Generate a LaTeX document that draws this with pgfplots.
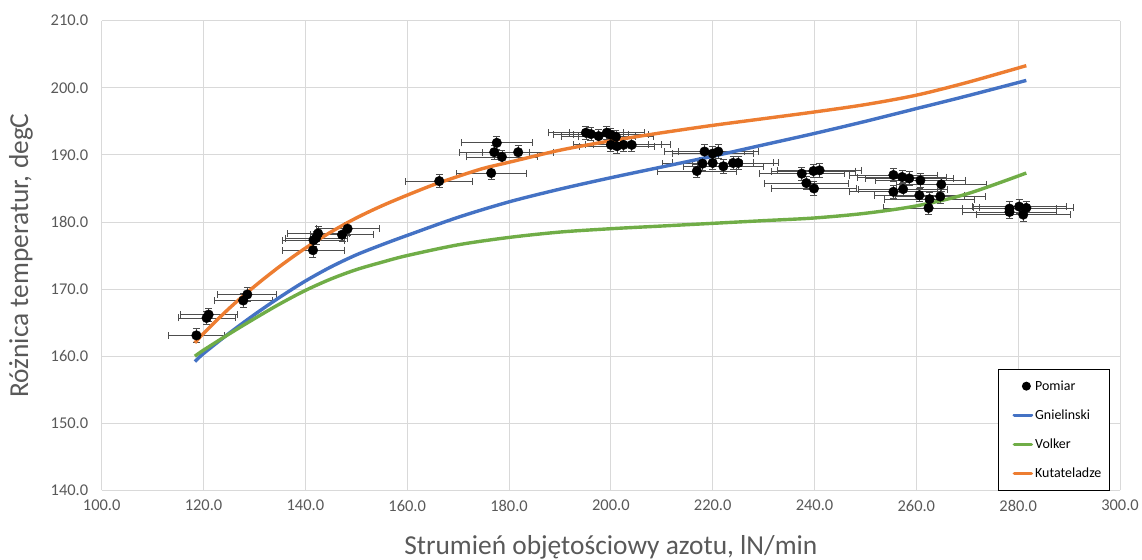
\documentclass[border=0pt]{standalone}
\usepackage{fontspec}
\setmainfont{Carlito}
\usepackage{pgfplots}
\pgfplotsset{compat=1.18}
\usepackage{pgfplotstable}

\definecolor{gnblue}{HTML}{4472C4}
\definecolor{vogreen}{HTML}{70AD47}
\definecolor{kuorange}{HTML}{ED7D31}
\definecolor{gridgray}{HTML}{D9D9D9}
\definecolor{txtgray}{HTML}{595959}
\definecolor{errgray}{HTML}{4D4D4D}

% measured points: flow, temperature difference, uncertainties
\pgfplotstableread{
x y ex ey
118.6 163.1 5.5 1.0
120.6 165.7 5.6 1.0
121.0 166.2 5.6 1.0
127.8 168.3 5.7 1.0
128.6 169.2 5.8 1.0
141.5 175.8 6.1 1.0
141.6 177.3 6.1 1.0
142.1 177.6 6.1 1.0
142.5 178.3 6.1 1.0
147.2 178.1 6.2 1.0
148.3 179.0 6.2 1.0
166.3 186.1 6.6 1.0
176.5 187.3 6.9 1.0
177.1 190.4 6.9 1.0
177.6 191.8 6.9 1.0
178.6 189.7 6.9 1.0
181.8 190.4 7.0 1.0
195.1 193.3 7.3 1.0
196.1 193.1 7.3 1.0
197.6 192.8 7.3 1.0
199.2 193.3 7.4 1.0
200.0 193.0 7.4 1.0
201.0 192.7 7.4 1.0
200.0 191.5 7.4 1.0
201.2 191.3 7.4 1.0
202.5 191.5 7.5 1.0
204.1 191.5 7.5 1.0
216.9 187.6 7.8 1.0
218.0 188.7 7.8 1.0
218.4 190.5 7.8 1.0
220.0 190.2 7.9 1.0
220.0 188.8 7.9 1.0
221.1 190.5 7.9 1.0
222.1 188.3 7.9 1.0
224.0 188.8 8.0 1.0
225.0 188.8 8.0 1.0
237.5 187.2 8.3 1.0
238.4 185.8 8.3 1.0
239.8 187.6 8.3 1.0
239.9 185.0 8.3 1.0
241.0 187.7 8.3 1.0
255.5 187.0 8.7 1.0
255.5 184.5 8.7 1.0
257.2 186.7 8.7 1.0
257.4 184.9 8.7 1.0
258.6 186.5 8.7 1.0
260.6 184.0 8.8 1.0
260.8 186.2 8.8 1.0
262.4 182.1 8.8 1.0
262.6 183.4 8.8 1.0
264.7 183.8 8.9 1.0
264.9 185.6 8.9 1.0
278.3 182.0 9.2 1.0
278.3 181.5 9.2 1.0
280.2 182.3 9.2 1.0
281.0 181.1 9.3 1.0
281.6 182.1 9.3 1.0
}\pomiar

% legend samples
\pgfplotsset{
  marklegend/.style={legend image code/.code={
    \path[draw=none, fill=none] (-10bp,0) -- (17bp,0);
    \fill[black, draw=none] (12bp,0) circle (4.5bp);}},
  linelegend/.style={legend image code/.code={
    \path[draw=none, fill=none] (-10bp,0) -- (17bp,0);
    \draw[draw=#1, line width=3.6bp, line cap=round] (0bp,0bp) -- (17bp,0bp);}},
}

\begin{document}
\begin{tikzpicture}
\useasboundingbox (0,0) rectangle (1142bp,560bp);
\begin{axis}[
  at={(101.7bp,69.6bp)}, anchor=south west,
  scale only axis, width=1018.3bp, height=469.7bp,
  xmin=100, xmax=300, ymin=140, ymax=210,
  xtick={100,120,...,300}, ytick={140,150,...,210},
  axis line style={draw=none},
  major tick length=0pt,
  grid=major,
  major grid style={draw=gridgray, line width=0.9bp},
  /pgf/number format/fixed,
  /pgf/number format/fixed zerofill,
  /pgf/number format/precision=1,
  /pgf/number format/1000 sep={},
  /pgf/number format/assume math mode=true,
  tick label style={font=\fontsize{16.5}{19}\selectfont, text=txtgray},
  xticklabel style={yshift=-6bp},
  yticklabel style={xshift=-10bp},
  xlabel={Strumień objętościowy azotu, lN/min},
  ylabel={Różnica temperatur, degC},
  every axis x label/.style={at={(axis description cs:0.5,0)}, anchor=base,
    yshift=-63.6bp, font=\fontsize{27.5}{32}\selectfont, text=txtgray},
  every axis y label/.style={at={(axis description cs:0,0.5)},
    xshift=-73.7bp, rotate=90, anchor=base,
    font=\fontsize{27.5}{32}\selectfont, text=txtgray},
  legend cell align=left,
  legend style={at={(rel axis cs:0.990,0.258)}, anchor=north east,
    draw=black, fill=white, line width=0.8bp,
    inner xsep=6bp, inner ysep=9bp, row sep=14bp,
    nodes={inner sep=2bp},
    font=\fontsize{14}{16}\selectfont},
]

\addplot[
  forget plot,
  only marks, mark=*, mark size=4.8bp, black,
  error bars/.cd, x dir=both, x explicit, y dir=both, y explicit,
  error bar style={errgray, line width=0.75bp},
  error mark options={rotate=90, mark size=3.5bp, line width=0.75bp, errgray},
] table[x=x, y=y, x error=ex, y error=ey] {\pomiar};

\addplot[forget plot, smooth, gnblue, line width=3.4bp] coordinates {
(118.3,159.2) (120,160.4) (125,163.4) (130,166.2) (135,168.8) (140,171.2)
(145,173.3) (150,175.1) (155,176.6) (160,178.0) (170,180.7) (180,183.0)
(190,184.9) (200,186.6) (210,188.2) (220,189.8) (230,191.5) (240,193.2)
(250,195.0) (260,196.9) (270,198.8) (281.6,201.1)
};

\addplot[forget plot, smooth, vogreen, line width=3.4bp] coordinates {
(118.3,160.0) (120,160.9) (125,163.3) (130,165.6) (135,167.8) (140,169.8)
(145,171.5) (150,172.9) (155,174.0) (160,175.0) (170,176.6) (180,177.7)
(190,178.5) (200,179.0) (210,179.4) (220,179.8) (230,180.2) (240,180.6)
(250,181.3) (260,182.4) (270,184.2) (281.6,187.3)
};

\addplot[forget plot, smooth, kuorange, line width=3.4bp] coordinates {
(118.3,162.0) (120,163.4) (125,167.1) (130,170.4) (135,173.4) (140,176.1)
(145,178.5) (150,180.6) (155,182.4) (160,184.0) (165,185.5) (170,186.8)
(175,188.0) (180,188.9) (190,190.7) (200,192.1) (210,193.3) (220,194.4)
(230,195.4) (240,196.4) (250,197.5) (260,198.9) (270,200.8) (281.6,203.3)
};

\addlegendimage{marklegend}
\addlegendentry{Pomiar}
\addlegendimage{linelegend=gnblue}
\addlegendentry{Gnielinski}
\addlegendimage{linelegend=vogreen}
\addlegendentry{Volker}
\addlegendimage{linelegend=kuorange}
\addlegendentry{Kutateladze}

\end{axis}
\end{tikzpicture}
\end{document}
